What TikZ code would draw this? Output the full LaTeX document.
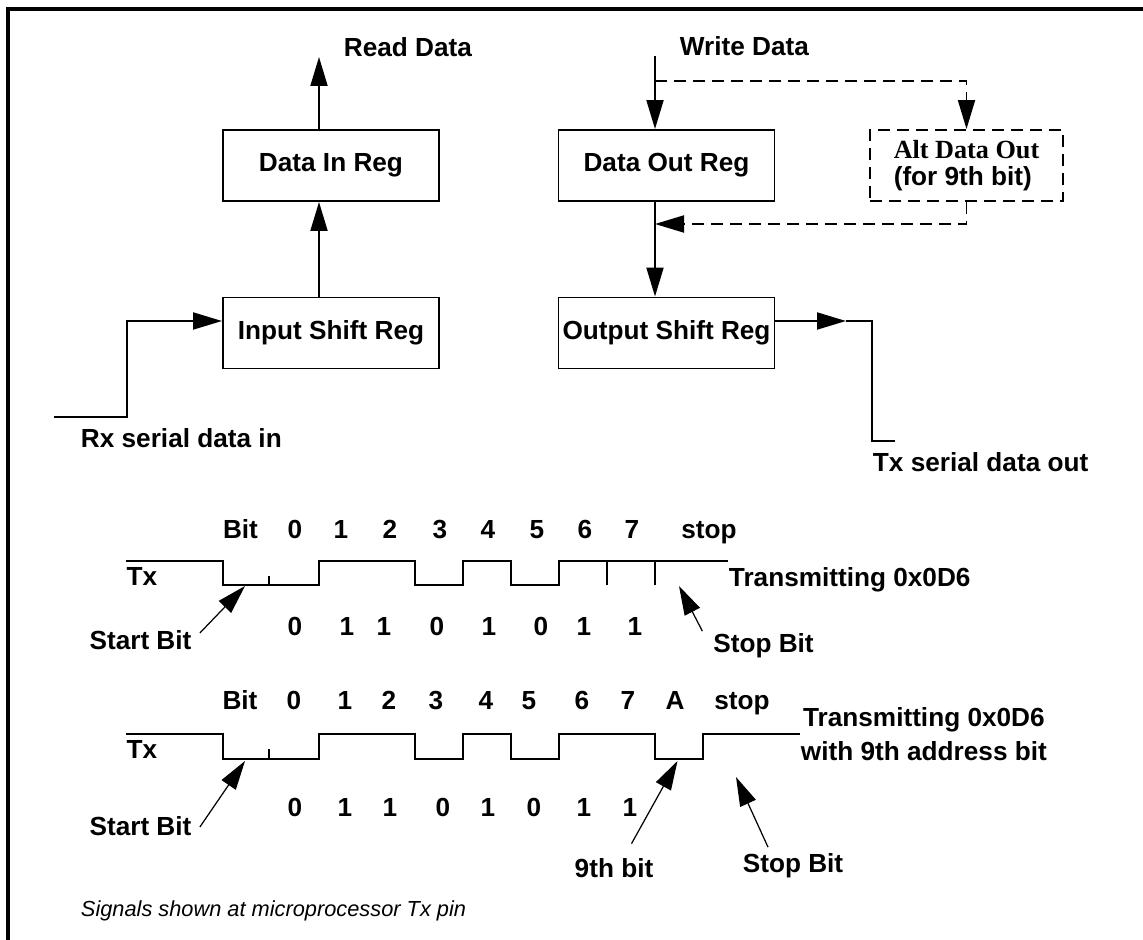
\documentclass[tikz,border=0pt]{standalone}
\usepackage{fontspec}
\setmainfont{Liberation Sans}
\newfontfamily\altfont{Liberation Serif}
\usetikzlibrary{positioning}
\usetikzlibrary{arrows.meta}

\begin{document}
\begin{tikzpicture}[line width=1.1pt,>={Triangle[length=0.58cm,width=0.34cm]},
  box/.style={rectangle,draw,minimum width=4.32cm,minimum height=1.42cm,inner sep=0pt,font=\fontsize{14.9}{15}\selectfont\bfseries},
  altbox/.style={box,dash pattern=on 0.24cm off 0.14cm,minimum width=3.86cm,align=left},
  altline/.style={dash pattern=on 0.24cm off 0.14cm},
  lbl/.style={inner sep=0pt,font=\fontsize{14.9}{19.3}\selectfont\bfseries,text height=10.7pt,text depth=0pt}]

  \useasboundingbox (0,0) rectangle (22.86,-18.8);
  \draw[line width=2.3pt] (0.16,-18.8) -- (0.16,-0.18) -- (22.86,-0.18);

  % 1. Register
  \node[box] (DataIn) at (6.62,-3.31) {Data In Reg};
  \node[box] (InShift)  [below=3.35cm of DataIn.center,anchor=center] {Input Shift Reg};
  \node[box] (DataOut)  [right=6.71cm of DataIn.center,anchor=center] {Data Out Reg};
  \node[box] (OutShift) [below=3.35cm of DataOut.center,anchor=center] {Output Shift Reg};
  \node[altbox] (AltOut) [right=6.0cm of DataOut.center,anchor=center] {{\altfont Alt Data Out}\\(for 9th bit)};

  \coordinate (rdtip)  at (6.38,-1.14);
  \coordinate (wdtop)  at (13.10,-1.12);
  \coordinate (wdfork) at (13.10,-1.62);
  \coordinate (altin)  at (13.10,-4.48);
  \coordinate (txtip)  at (16.92,-6.42);
  \coordinate (txbend) at (17.44,-8.82);
  \coordinate (txend)  at (17.90,-8.82);
  \coordinate (rxstart) at (1.08,-8.34);
  \coordinate (rxbend)  at (2.54,-8.34);

  \node[lbl] (rdlbl) [above right=0cm and 0.48cm of rdtip] {Read Data};
  \node[lbl] (wdlbl) [above right=0cm and 0.48cm of wdtop] {Write Data};
  \node[lbl] (txlbl) [below right=0.21cm and 0cm of txbend] {Tx serial data out};
  \node[lbl] (rxlbl) [below right=0.21cm and 0.52cm of rxstart] {Rx serial data in};

  \path[->]
    (InShift.north -| rdtip) edge (DataIn.south -| rdtip)
    (DataIn.north -| rdtip)  edge (rdtip)
    (wdtop)                  edge (DataOut.north -| wdtop)
    (DataOut.south -| wdtop) edge (OutShift.north -| wdtop);
  \draw[->,altline] (wdfork) -| (AltOut.north);
  \draw[->,altline] (AltOut.south) |- (altin);
  \draw[->] (OutShift.east |- txtip) -- (txtip);
  \draw (txtip) -| (txbend) -- (txend);
  \draw[->] (rxstart) -- (rxbend) |- (InShift.west |- txtip);

  % 2. Tx ohne Adressbit
  \coordinate (w1end)  at (14.56,-11.22);
  \coordinate (sb1tip) at (4.90,-11.72);
  \coordinate (se1tip) at (13.58,-11.72);
  \draw (2.52,-11.22) -- (4.46,-11.22) -- (4.46,-11.70) -- (6.38,-11.70) -- (6.38,-11.22)
    -- (8.30,-11.22) -- (8.30,-11.70) -- (9.26,-11.70) -- (9.26,-11.22) -- (10.22,-11.22)
    -- (10.22,-11.70) -- (11.18,-11.70) -- (11.18,-11.22) -- (w1end);
  \draw (5.38,-11.70) -- (5.38,-11.52) (12.14,-11.22) -- (12.14,-11.70) (13.10,-11.22) -- (13.10,-11.70);

  \node[lbl] (tx1)  at (2.84,-11.52) {Tx};
  \node[lbl] (bit1) at (4.81,-10.58) {Bit};
  \node[lbl] (t10) [right=1.09cm of bit1.center,anchor=center] {0};
  \node[lbl] (t11) [right=2.01cm of bit1.center,anchor=center] {1};
  \node[lbl] (t12) [right=2.99cm of bit1.center,anchor=center] {2};
  \node[lbl] (t13) [right=3.99cm of bit1.center,anchor=center] {3};
  \node[lbl] (t14) [right=4.95cm of bit1.center,anchor=center] {4};
  \node[lbl] (t15) [right=5.93cm of bit1.center,anchor=center] {5};
  \node[lbl] (t16) [right=6.89cm of bit1.center,anchor=center] {6};
  \node[lbl] (t17) [right=7.83cm of bit1.center,anchor=center] {7};
  \node[lbl] (t1s) [right=9.37cm of bit1.center,anchor=center] {stop};
  \node[lbl] (v10) [below right=1.94cm and 1.09cm of bit1.center,anchor=center] {0};
  \node[lbl] (v11) [below right=1.94cm and 2.13cm of bit1.center,anchor=center] {1};
  \node[lbl] (v12) [below right=1.94cm and 2.87cm of bit1.center,anchor=center] {1};
  \node[lbl] (v13) [below right=1.94cm and 3.93cm of bit1.center,anchor=center] {0};
  \node[lbl] (v14) [below right=1.94cm and 4.97cm of bit1.center,anchor=center] {1};
  \node[lbl] (v15) [below right=1.94cm and 6.01cm of bit1.center,anchor=center] {0};
  \node[lbl] (v16) [below right=1.94cm and 6.87cm of bit1.center,anchor=center] {1};
  \node[lbl] (v17) [below right=1.94cm and 7.89cm of bit1.center,anchor=center] {1};
  \node[lbl] (tr1) [below right=0.11cm and 0cm of w1end] {Transmitting 0x0D6};
  \node[lbl] (st1) at (2.81,-12.80) {Start Bit};
  \node[lbl] (sp1) at (15.27,-12.87) {Stop Bit};
  \draw[->,line width=0.7pt] ([xshift=0.15cm,yshift=0.14cm]st1.east) -- (sb1tip);
  \draw[->,line width=0.7pt] ([xshift=-0.20cm,yshift=0.04cm]sp1.north west) -- (se1tip);

  % 3. Tx mit 9. Bit
  \coordinate (w2end)  at (16.00,-14.68);
  \coordinate (sb2tip) at (4.90,-15.22);
  \coordinate (a9tip)  at (13.55,-15.22);
  \coordinate (se2tip) at (14.72,-15.54);
  \draw (2.52,-14.68) -- (4.46,-14.68) -- (4.46,-15.18) -- (6.38,-15.18) -- (6.38,-14.68)
    -- (8.30,-14.68) -- (8.30,-15.18) -- (9.26,-15.18) -- (9.26,-14.68) -- (10.22,-14.68)
    -- (10.22,-15.18) -- (11.18,-15.18) -- (11.18,-14.68) -- (13.10,-14.68) -- (13.10,-15.18)
    -- (14.06,-15.18) -- (14.06,-14.68) -- (w2end);
  \draw (5.38,-15.18) -- (5.38,-14.98);

  \node[lbl] (tx2)  at (2.84,-14.98) {Tx};
  \node[lbl] (bit2) at (4.80,-14.00) {Bit};
  \node[lbl] (t20) [right=1.08cm of bit2.center,anchor=center] {0};
  \node[lbl] (t21) [right=2.10cm of bit2.center,anchor=center] {1};
  \node[lbl] (t22) [right=2.98cm of bit2.center,anchor=center] {2};
  \node[lbl] (t23) [right=3.92cm of bit2.center,anchor=center] {3};
  \node[lbl] (t24) [right=4.92cm of bit2.center,anchor=center] {4};
  \node[lbl] (t25) [right=5.78cm of bit2.center,anchor=center] {5};
  \node[lbl] (t26) [right=6.84cm of bit2.center,anchor=center] {6};
  \node[lbl] (t27) [right=7.76cm of bit2.center,anchor=center] {7};
  \node[lbl] (t2a) [right=8.70cm of bit2.center,anchor=center] {A};
  \node[lbl] (t2s) [right=10.04cm of bit2.center,anchor=center] {stop};
  \node[lbl] (v20) [below right=2.14cm and 1.10cm of bit2.center,anchor=center] {0};
  \node[lbl] (v21) [below right=2.14cm and 2.10cm of bit2.center,anchor=center] {1};
  \node[lbl] (v22) [below right=2.14cm and 3.00cm of bit2.center,anchor=center] {1};
  \node[lbl] (v23) [below right=2.14cm and 4.06cm of bit2.center,anchor=center] {0};
  \node[lbl] (v24) [below right=2.14cm and 4.96cm of bit2.center,anchor=center] {1};
  \node[lbl] (v25) [below right=2.14cm and 5.88cm of bit2.center,anchor=center] {0};
  \node[lbl] (v26) [below right=2.14cm and 6.88cm of bit2.center,anchor=center] {1};
  \node[lbl] (v27) [below right=2.14cm and 7.80cm of bit2.center,anchor=center] {1};
  \node[lbl,text height=,align=center] (tr2) [above right=0.54cm and 0cm of w2end,anchor=north west]
    {Transmitting 0x0D6\\ with 9th address bit};
  \node[lbl] (st2) at (2.81,-16.52) {Start Bit};
  \node[lbl] (nb)  at (12.28,-17.36) {9th bit};
  \node[lbl] (sp2) at (15.86,-17.26) {Stop Bit};
  \draw[->,line width=0.7pt] ([xshift=0.15cm,yshift=-0.02cm]st2.east) -- (sb2tip);
  \draw[->,line width=0.7pt] ([xshift=0.35cm,yshift=0.28cm]nb.north) -- (a9tip);
  \draw[->,line width=0.7pt] ([xshift=-0.50cm,yshift=0.11cm]sp2.north) -- (se2tip);

  \node[inner sep=0pt,anchor=west,font=\fontsize{12.4}{14}\selectfont\itshape] (note) at (1.60,-18.22)
    {Signals shown at microprocessor Tx pin};
\end{tikzpicture}
\end{document}
